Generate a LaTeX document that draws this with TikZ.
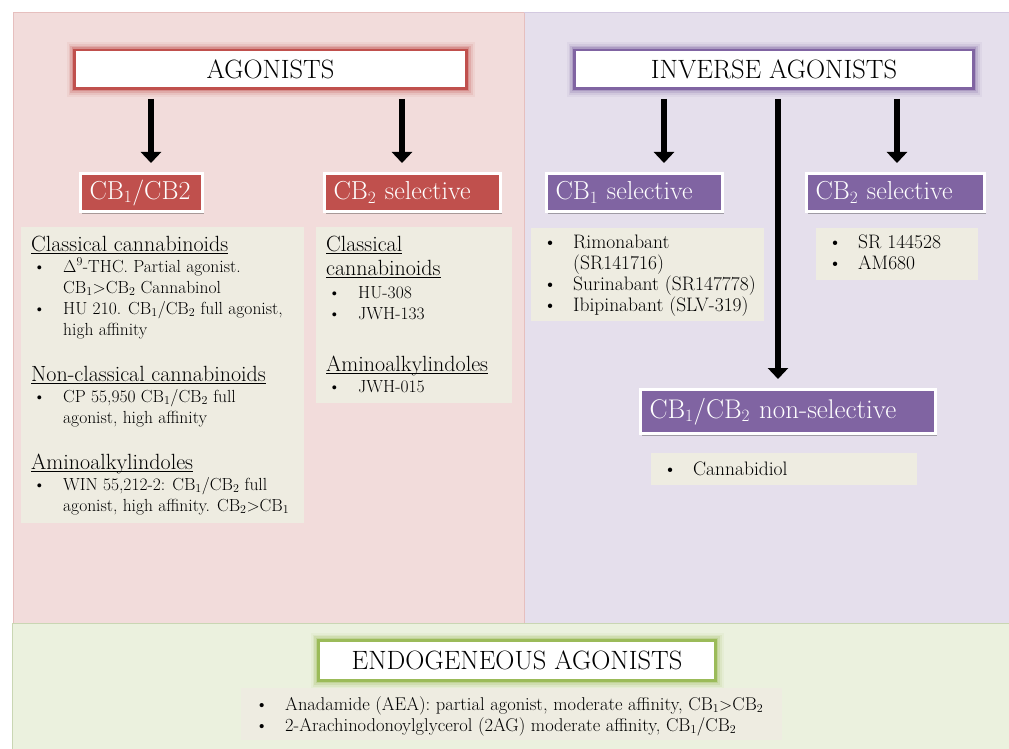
\documentclass[tikz,border=0pt]{standalone}
\usetikzlibrary{arrows.meta,shadows}
\definecolor{pinkbg}{HTML}{F2DCDB}
\definecolor{pinkbd}{HTML}{E6BFBE}
\definecolor{purbg}{HTML}{E5DFEC}
\definecolor{purbd}{HTML}{D3C9E0}
\definecolor{grnbg}{HTML}{EBF1DE}
\definecolor{grnbd}{HTML}{C9D6B3}
\definecolor{listbg}{HTML}{EEECE1}
\definecolor{cred}{HTML}{C0504D}
\definecolor{cpur}{HTML}{8064A2}
\definecolor{cgrn}{HTML}{9BBB59}
\newcommand\hfnt{\fontsize{22}{21}\selectfont}
\newcommand\ifnt{\fontsize{17.5}{21}\selectfont}
\newcommand\pfnt{\fontsize{19.5}{21}\selectfont}
\newcommand\gfnt{\fontsize{18.5}{21}\selectfont}
\newcommand\hdr[1]{\leavevmode{\hfnt\setbox0\hbox{#1}\rlap{\rule[-2.8pt]{\wd0}{0.9pt}}\box0}\par}
\newcommand\itm[1]{\hangindent=32pt\hangafter=1\noindent\hbox to 32pt{\hskip2pt\textbullet\hfil}#1\par}
\newcommand\lbx[5]{\parbox[t][#2][t]{#1}{\raggedright\leftskip=10pt\parindent=0pt #3\leavevmode\rule{0pt}{#4}#5}}
\tikzset{
  title/.style={fill=white, draw=#1, line width=2.5pt,
    preaction={draw=#1, draw opacity=0.07, line width=16pt},
    preaction={draw=#1, draw opacity=0.12, line width=12pt},
    preaction={draw=#1, draw opacity=0.2, line width=8.5pt},
    preaction={draw=#1, draw opacity=0.3, line width=5.5pt},
    inner sep=0pt, font=\fontsize{26.5}{28}\selectfont},
  lab/.style={fill=#1, draw=white, line width=3pt, text=white,
    minimum height=38pt, inner xsep=9pt, inner ysep=0pt, align=left,
    font=\fontsize{26}{28}\selectfont,
    drop shadow={shadow xshift=1pt, shadow yshift=-2.5pt, opacity=0.3, fill=black}},
  lbox/.style={fill=listbg, inner sep=0pt, anchor=north west},
  arr/.style={line width=6pt, -{Triangle[width=20pt,length=11pt]},
    shorten <=9pt, shorten >=9pt},
  panel/.style={fill=#1bg, draw=#1bd, line width=1pt}
}
\begin{document}
\begin{tikzpicture}[x=1pt,y=-1pt]
\useasboundingbox (0,0) rectangle (1009,749);
% panels
\fill[white] (0,0) rectangle (1009,749);
\path[panel=pink] (13,13) rectangle (524,623);
\path[panel=pur] (524,13) rectangle (1012,623);
\draw[pinkbd, line width=1pt] (524,13) -- (524,623);
\path[panel=grn] (12.5,623) rectangle (1012,752);

% titles
\node[title=cred, minimum width=392pt, minimum height=38.5pt] (ag) at (270.5,69.5) {AGONISTS};
\node[title=cpur, minimum width=399pt, minimum height=38.5pt] (inv) at (774,69.5) {INVERSE AGONISTS};
\node[title=cgrn, minimum width=397pt, minimum height=40pt] (endo) at (517,660.5) {ENDOGENEOUS AGONISTS};

% labels
\node[lab=cred, text width=104pt] (cb12) at (141.5,192.5) {CB$_1$/CB2};
\node[lab=cred, text width=158pt] (cb2a) at (412.5,192.5) {CB$_2$ selective};
\node[lab=cpur, text width=158pt] (cb1i) at (634.5,192.5) {CB$_1$ selective};
\node[lab=cpur, text width=160pt] (cb2i) at (895.5,192.5) {CB$_2$ selective};
\node[lab=cpur, text width=277pt, minimum height=44pt, font=\fontsize{27}{29}\selectfont] (nons) at (788,411.5) {CB$_1$/CB$_2$ non-selective};

% arrows
\coordinate (xa1) at (151,0);
\coordinate (xa2) at (402,0);
\coordinate (xi1) at (664,0);
\coordinate (xi2) at (778,0);
\coordinate (xi3) at (897,0);
\draw[arr] (ag.south -| xa1) -- (cb12.north -| xa1);
\draw[arr] (ag.south -| xa2) -- (cb2a.north -| xa2);
\draw[arr] (inv.south -| xi1) -- (cb1i.north -| xi1);
\draw[arr] (inv.south -| xi2) -- (nons.north -| xi2);
\draw[arr] (inv.south -| xi3) -- (cb2i.north -| xi3);

% lists
\node[lbox] (l1) at (21,227) {\lbx{283pt}{296pt}{\ifnt}{24pt}{%
\hdr{Classical cannabinoids}
\itm{$\Delta^9$-THC. Partial agonist.\newline CB$_1{>}$CB$_2$ Cannabinol}
\itm{HU 210. CB$_1$/CB$_2$ full agonist,\newline high affinity}
\vspace{25pt}
\hdr{Non-classical cannabinoids}
\itm{CP 55,950 CB$_1$/CB$_2$ full\newline agonist, high affinity}
\vspace{25pt}
\hdr{Aminoalkylindoles}
\itm{WIN 55,212-2: CB$_1$/CB$_2$ full\newline agonist, high affinity. CB$_2{>}$CB$_1$}}};

\node[lbox] (l2) at (316,227) {\lbx{196pt}{176pt}{\ifnt}{24pt}{%
\hdr{Classical}\vspace{3pt}
\hdr{cannabinoids}\vspace{2pt}
\itm{HU-308}
\itm{JWH-133}
\vspace{31pt}
\hdr{Aminoalkylindoles}
\itm{JWH-015}}};

\node[lbox] (l3) at (531,228) {\lbx{233pt}{93pt}{\pfnt}{20pt}{%
\itm{Rimonabant\newline (SR141716)}
\itm{Surinabant (SR147778)}
\itm{Ibipinabant (SLV-319)}}};

\node[lbox] (l4) at (816,228) {\lbx{162pt}{52pt}{\pfnt}{20pt}{%
\itm{SR 144528}
\itm{AM680}}};

\node[lbox] (l5) at (651,453) {\lbx{266pt}{32pt}{\pfnt}{22pt}{%
\itm{Cannabidiol}}};

\node[lbox] (l6) at (241,688) {\lbx{541pt}{52pt}{\gfnt\leftskip=12pt}{22pt}{%
\itm{Anadamide (AEA): partial agonist, moderate affinity, CB$_1{>}$CB$_2$}
\itm{2-Arachinodonoylglycerol (2AG) moderate affinity, CB$_1$/CB$_2$}}};
\end{tikzpicture}
\end{document}
